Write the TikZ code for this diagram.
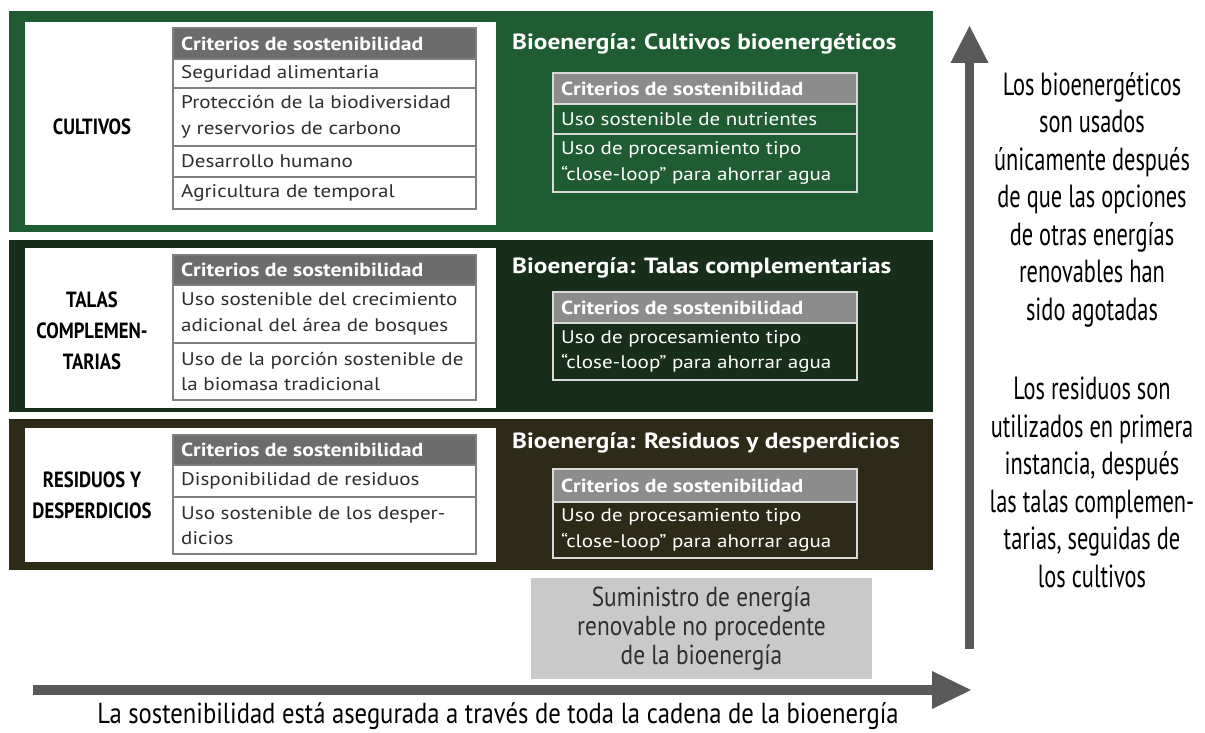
\documentclass[tikz,border=0pt]{standalone}
\usepackage{fontspec}
\usetikzlibrary{arrows.meta}
\setmainfont[FakeStretch=1.15]{PT Sans}
\newfontfamily\condfont[FakeStretch=0.7]{PT Sans}
\newfontfamily\narrowfont[FakeStretch=0.85]{PT Sans}

\definecolor{cultgreen}{HTML}{1F5C31}
\definecolor{talagreen}{HTML}{172E1B}
\definecolor{resiolive}{HTML}{2D2B18}
\definecolor{headgray}{HTML}{6C6C6C}
\definecolor{headlight}{HTML}{8C8C8C}
\definecolor{linegray}{HTML}{808080}
\definecolor{txtgray}{HTML}{2E2E2E}
\definecolor{boxgray}{HTML}{C9C9C9}
\definecolor{arrowgray}{HTML}{595959}

\begin{document}
\begin{tikzpicture}[x=1pt,y=-1pt,
  tabline/.style={draw=linegray,line width=1.2pt},
  greenline/.style={draw=white!70!gray,line width=1.2pt},
  headtxt/.style={anchor=west,inner sep=0pt,text=white,font=\fontsize{18.9}{22}\bfseries},
  celltxt/.style={anchor=west,inner sep=0pt,align=left,text=txtgray,font=\fontsize{18.3}{25.5}\selectfont},
  greentxt/.style={celltxt,text=white},
  titletxt/.style={anchor=west,inner sep=0pt,text=white,font=\fontsize{22}{24}\bfseries},
  kindtxt/.style={inner sep=0pt,align=center,text=black,font=\narrowfont\fontsize{22}{31}\bfseries},
  sidetxt/.style={inner sep=0pt,align=center,text=black,font=\condfont\fontsize{32}{37.5}\selectfont},
  bigarrow/.style={arrowgray,line width=9.5pt}]
\useasboundingbox (0,0) rectangle (1205,733);

%% the three bands
\fill[cultgreen] (9,11) rectangle (933,232);
\fill[talagreen] (9,240) rectangle (933,412);
\fill[resiolive] (9,419) rectangle (933,570);
\foreach \top/\bot in {22/225,248/408,428/562} {   %white boxes on the left
  \fill[white] (25,\top) rectangle (496,\bot);
}

%% CULTIVOS
\fill[headgray] (173,28) rectangle (476,59);
\draw[tabline] (173,28) rectangle (476,209);
\foreach \yy in {59,88,146,177} {
  \draw[tabline] (173,\yy) -- (476,\yy);
}
\node[kindtxt] (cult) at (92,127) {CULTIVOS};
\node[headtxt] (cultH) at (181,43.5) {Criterios de sostenibilidad};
\node[celltxt] (cultA) at (181,74) {Seguridad alimentaria};
\node[celltxt] (cultB) at (181,117) {Protección de la biodiversidad\\y reservorios de carbono};
\node[celltxt] (cultC) at (181,161.5) {Desarrollo humano};
\node[celltxt] (cultD) at (181,193) {Agricultura de temporal};

\node[titletxt] (cultT) at (512,44) {Bioenergía: Cultivos bioenergéticos};
\fill[headlight] (553,73) rectangle (857,104);
\draw[greenline] (553,73) rectangle (857,192);
\foreach \yy in {104,134} {
  \draw[greenline] (553,\yy) -- (857,\yy);
}
\node[headtxt] (cultGH) at (561,88.5) {Criterios de sostenibilidad};
\node[greentxt] (cultGA) at (561,119) {Uso sostenible de nutrientes};
\node[greentxt] (cultGB) at (561,163) {Uso de procesamiento tipo\\“close-loop” para ahorrar agua};

%% TALAS COMPLEMENTARIAS
\fill[headgray] (173,255) rectangle (476,285);
\draw[tabline] (173,255) rectangle (476,400);
\draw[tabline] (173,285) -- (476,285);
\draw[tabline] (173,343) -- (476,343);
\node[kindtxt] (tala) at (92,331) {TALAS\\COMPLEMEN-\\TARIAS};
\node[headtxt] (talaH) at (181,270) {Criterios de sostenibilidad};
\node[celltxt] (talaA) at (181,314) {Uso sostenible del crecimiento\\adicional del área de bosques};
\node[celltxt] (talaB) at (181,371.5) {Uso de la porción sostenible de\\la biomasa tradicional};

\node[titletxt] (talaT) at (512,268) {Bioenergía: Talas complementarias};
\fill[headlight] (553,292) rectangle (857,323);
\draw[greenline] (553,292) rectangle (857,380);
\draw[greenline] (553,323) -- (857,323);
\node[headtxt] (talaGH) at (561,307.5) {Criterios de sostenibilidad};
\node[greentxt] (talaGA) at (561,351.5) {Uso de procesamiento tipo\\“close-loop” para ahorrar agua};

%% RESIDUOS Y DESPERDICIOS
\fill[headgray] (173,435) rectangle (476,465);
\draw[tabline] (173,435) rectangle (476,554);
\foreach \yy in {465,497} {
  \draw[tabline] (173,\yy) -- (476,\yy);
}
\node[kindtxt] (resi) at (92,495) {RESIDUOS Y\\DESPERDICIOS};
\node[headtxt] (resiH) at (181,450) {Criterios de sostenibilidad};
\node[celltxt] (resiA) at (181,481) {Disponibilidad de residuos};
\node[celltxt] (resiB) at (181,525.5) {Uso sostenible de los desper-\\dicios};

\node[titletxt] (resiT) at (512,443) {Bioenergía: Residuos y desperdicios};
\fill[headlight] (553,469) rectangle (857,502);
\draw[greenline] (553,469) rectangle (857,558);
\draw[greenline] (553,502) -- (857,502);
\node[headtxt] (resiGH) at (561,485.5) {Criterios de sostenibilidad};
\node[greentxt] (resiGA) at (561,530) {Uso de procesamiento tipo\\“close-loop” para ahorrar agua};

%% other renewables
\node[fill=boxgray,minimum width=341pt,minimum height=101pt,inner sep=0pt,align=center,
  text=txtgray,font=\narrowfont\fontsize{27.5}{29}\selectfont] (otras) at (701.5,628.5)
  {Suministro de energía\\renovable no procedente\\de la bioenergía};

%% arrows
\coordinate (hStart) at (33,690);
\coordinate (hEnd) at (972,690);
\coordinate (vStart) at (969.5,649);
\coordinate (vEnd) at (969.5,25);
\draw[bigarrow,-{Triangle[length=40pt,width=35pt]}] (hStart) -- (hEnd);
\draw[bigarrow,-{Triangle[length=38pt,width=35pt]}] (vStart) -- (vEnd);
\node[sidetxt,font=\narrowfont\fontsize{29}{30}\selectfont] (cadena) at (498,716)
  {La sostenibilidad está asegurada a través de toda la cadena de la bioenergía};

%% side notes
\node[sidetxt] (nota1) at (1092,199.5) {Los bioenergéticos\\son usados\\únicamente después\\de que las opciones\\de otras energías\\renovables han\\sido agotadas};
\node[sidetxt] (nota2) at (1092,482.5) {Los residuos son\\utilizados en primera\\instancia, después\\las talas complemen-\\tarias, seguidas de\\los cultivos};
\end{tikzpicture}
\end{document}
